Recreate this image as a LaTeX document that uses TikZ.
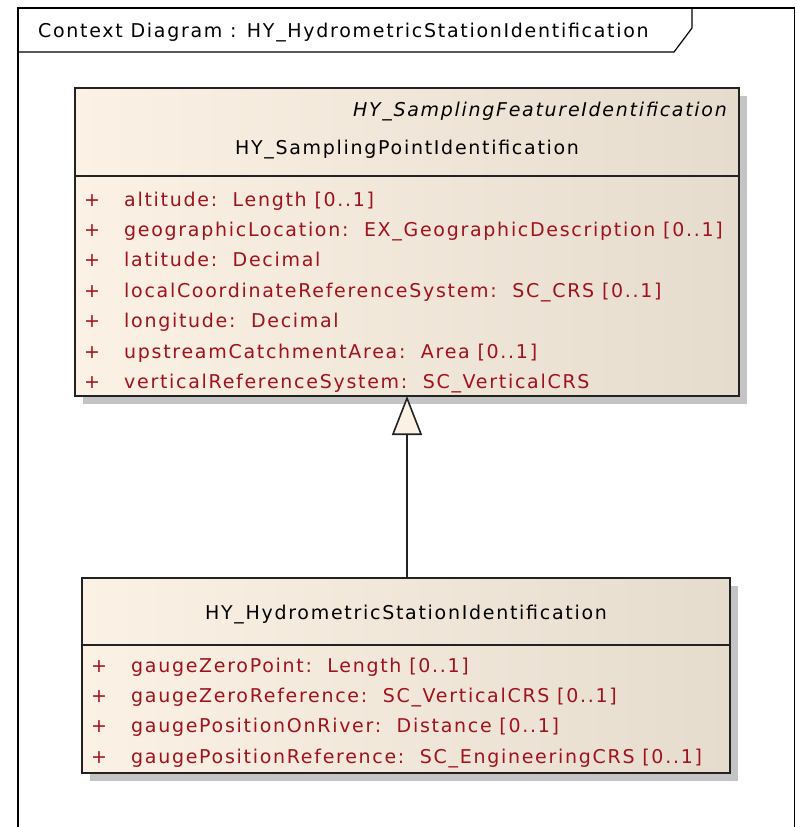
\documentclass[tikz,border=0pt]{standalone}
\usepackage{fontspec}
\newfontfamily\umlfont[LetterSpace=9]{DejaVu Sans}
\usetikzlibrary{arrows.meta,shadows}
\definecolor{creamL}{HTML}{FBF1E4}
\definecolor{creamR}{HTML}{E6DCCE}
\definecolor{attrred}{HTML}{A0121C}
\definecolor{shadowc}{HTML}{C4C4C4}
\definecolor{edge}{HTML}{222222}
\tikzset{
  classbox/.style={draw=edge, line width=1.6pt, left color=creamL, right color=creamR,
    shading angle=90, inner sep=0pt, outer sep=0pt, anchor=north west,
    drop shadow={shadow xshift=8pt, shadow yshift=-8pt, opacity=1, fill=shadowc}},
  txt/.style={font=\umlfont\fontsize{19}{22}\selectfont, inner sep=0pt, anchor=west,
    text height=14pt, text depth=4pt},
  attr/.style={txt, text=attrred},
  plus/.style={txt, text=attrred},
  gen/.style={-{Triangle[length=39pt,width=30pt,fill=creamL]}, line width=1.6pt, draw=edge},
}
\begin{document}
\begin{tikzpicture}[x=1pt,y=-1pt]
\useasboundingbox (0,0) rectangle (796,827);
\fill[white] (0,0) rectangle (796,827);
% frame
\draw[line width=1.2pt] (18,840) -- (18,8) -- (794.5,8) -- (794.5,840);
\draw[line width=1.2pt] (18,52) -- (674,52) -- (692,28) -- (692,8);
\node[txt, text=black] (title) at (38,32) {Context Diagram : HY\_HydrometricStationIdentification};
% upper class
\node[classbox, minimum width=664pt, minimum height=308pt] (sup) at (75,88) {};
\draw[line width=1.6pt, edge] (75,176) -- (739,176);
\node[txt, anchor=east, font=\umlfont\itshape\fontsize{19}{22}\selectfont] (stereo) at (727,111) {HY\_SamplingFeatureIdentification};
\node[txt, anchor=center] (supname) at (407,149) {HY\_SamplingPointIdentification};
\foreach \y/\t [count=\i] in {201/{altitude:\ \ Length [0..1]},
  231/{geographicLocation:\ \ EX\_GeographicDescription [0..1]},
  261.5/{latitude:\ \ Decimal},
  292/{localCoordinateReferenceSystem:\ \ SC\_CRS [0..1]},
  322.5/{longitude:\ \ Decimal},
  353/{upstreamCatchmentArea:\ \ Area [0..1]},
  383/{verticalReferenceSystem:\ \ SC\_VerticalCRS}}{
  \node[plus] (sp\i) at (84,\y) {+};
  \node[attr] (sa\i) at (124,\y) {\t};
}
% lower class
\node[classbox, minimum width=648pt, minimum height=195pt] (sub) at (82,578) {};
\draw[line width=1.6pt, edge] (82,645) -- (730,645);
\node[txt, anchor=center] (subname) at (406,614) {HY\_HydrometricStationIdentification};
\foreach \y/\t [count=\i] in {667/{gaugeZeroPoint:\ \ Length [0..1]},
  697/{gaugeZeroReference:\ \ SC\_VerticalCRS [0..1]},
  727/{gaugePositionOnRiver:\ \ Distance [0..1]},
  758/{gaugePositionReference:\ \ SC\_EngineeringCRS [0..1]}}{
  \node[plus] (bp\i) at (91,\y) {+};
  \node[attr] (ba\i) at (131,\y) {\t};
}
% generalization
\draw[gen] (sub.north -| 407,0) -- (sup.south -| 407,0);
\end{tikzpicture}
\end{document}
